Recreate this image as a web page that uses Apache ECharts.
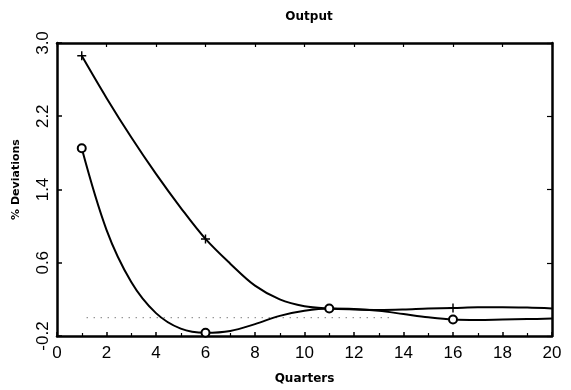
<!DOCTYPE html>
<html>
<head>
<meta charset="utf-8">
<title>Output</title>
<script src="https://cdn.jsdelivr.net/npm/echarts@6/dist/echarts.min.js"></script>
<style>
  html, body { margin: 0; padding: 0; background: #fff; }
  #chart { width: 571px; height: 390px; }
</style>
</head>
<body>
<div id="chart"></div>
<script>
// Quarters after the shock
var quarters = [1, 2, 3, 4, 5, 6, 7, 8, 9, 10, 11, 12, 13, 14, 15, 16, 17, 18, 19, 20];

// % deviations of output, "+" path
var plusPath = [2.86, 2.40, 1.97, 1.57, 1.20, 0.86, 0.59, 0.35, 0.20, 0.125,
                0.10, 0.09, 0.085, 0.09, 0.10, 0.105, 0.115, 0.115, 0.11, 0.10];

// % deviations of output, "o" path
var circlePath = [1.85, 0.96, 0.39, 0.05, -0.12, -0.165, -0.145, -0.07, 0.02, 0.075,
                  0.10, 0.095, 0.075, 0.04, 0.005, -0.02, -0.025, -0.02, -0.015, -0.01];

// Quarters that carry a marker
var markedQuarters = [1, 6, 11, 16];

// Dotted zero reference line
var zeroRef = [[1.2, 0], [13.6, 0]];

// Tick labels
var xTicks = [0, 2, 4, 6, 8, 10, 12, 14, 16, 18, 20];
var yTicks = [-0.2, 0.6, 1.4, 2.2, 3.0];

var PLUS = 'path://M4.2,0H5.8V4.2H10V5.8H5.8V10H4.2V5.8H0V4.2H4.2Z';

function buildData(values, symbol, size) {
  return quarters.map(function (q, i) {
    var item = { value: [q, values[i]] };
    if (markedQuarters.indexOf(q) >= 0) {
      item.symbol = symbol;
      item.symbolSize = size;
    } else {
      item.symbol = 'none';
    }
    return item;
  });
}

var tickFont = { fontFamily: 'Liberation Sans', fontSize: 17, color: '#000' };
var axisLine = { show: true, onZero: false, lineStyle: { color: '#000', width: 2.5 } };

var chart = echarts.init(document.getElementById('chart'), null, { renderer: 'canvas' });

chart.setOption({
  animation: false,
  backgroundColor: '#fff',
  title: {
    text: 'Output',
    left: 304,
    textAlign: 'center',
    top: 6,
    textStyle: { fontFamily: 'DejaVu Sans', fontWeight: 'bold', fontSize: 12, color: '#000' }
  },
  grid: { left: 57, right: 19, top: 43, bottom: 50 },
  xAxis: [{
    type: 'value',
    min: 0,
    max: 20,
    interval: 2,
    name: 'Quarters',
    nameLocation: 'middle',
    nameGap: 37,
    nameTextStyle: { fontFamily: 'DejaVu Sans', fontWeight: 'bold', fontSize: 12, color: '#000' },
    axisLine: axisLine,
    axisTick: { show: true, inside: true, length: 4, lineStyle: { color: '#000', width: 1.5 } },
    minorTick: { show: true, splitNumber: 2, length: 3, lineStyle: { color: '#000', width: 1.2 } },
    axisLabel: Object.assign({ margin: 9, customValues: xTicks }, tickFont),
    splitLine: { show: false }
  }, {
    type: 'value',
    position: 'top',
    min: 0,
    max: 20,
    interval: 2,
    axisLine: axisLine,
    axisTick: { show: true, inside: true, length: 4, lineStyle: { color: '#000', width: 1.2 } },
    axisLabel: { show: false },
    splitLine: { show: false }
  }],
  yAxis: [{
    type: 'value',
    min: -0.2,
    max: 3.0,
    name: '% Deviations',
    nameLocation: 'middle',
    nameGap: 35,
    nameTextStyle: { fontFamily: 'DejaVu Sans', fontWeight: 'bold', fontSize: 11, color: '#000', padding: [0, 0, 0, 20] },
    axisLine: axisLine,
    axisTick: { show: true, inside: true, length: 5, customValues: yTicks, lineStyle: { color: '#000', width: 1.5 } },
    axisLabel: Object.assign({
      margin: 5,
      rotate: 90,
      customValues: yTicks,
      formatter: function (v) { return v.toFixed(1); }
    }, tickFont),
    splitLine: { show: false }
  }, {
    type: 'value',
    position: 'right',
    min: -0.2,
    max: 3.0,
    axisLine: axisLine,
    axisTick: { show: true, inside: true, length: 5, customValues: yTicks, lineStyle: { color: '#000', width: 1.2 } },
    axisLabel: { show: false },
    splitLine: { show: false }
  }],
  series: [{
    name: 'zero',
    type: 'line',
    data: zeroRef,
    symbol: 'none',
    silent: true,
    lineStyle: { color: '#444', width: 1, type: [1, 6] },
    z: 1
  }, {
    name: 'plus',
    type: 'line',
    data: buildData(plusPath, PLUS, 9),
    smooth: 0.35,
    lineStyle: { color: '#000', width: 2 },
    itemStyle: { color: '#000', borderWidth: 0 },
    z: 3
  }, {
    name: 'circle',
    type: 'line',
    data: buildData(circlePath, 'emptyCircle', 8),
    smooth: 0.35,
    lineStyle: { color: '#000', width: 2 },
    itemStyle: { color: '#000', borderColor: '#000', borderWidth: 1.8 },
    z: 3
  }]
});
</script>
</body>
</html>
